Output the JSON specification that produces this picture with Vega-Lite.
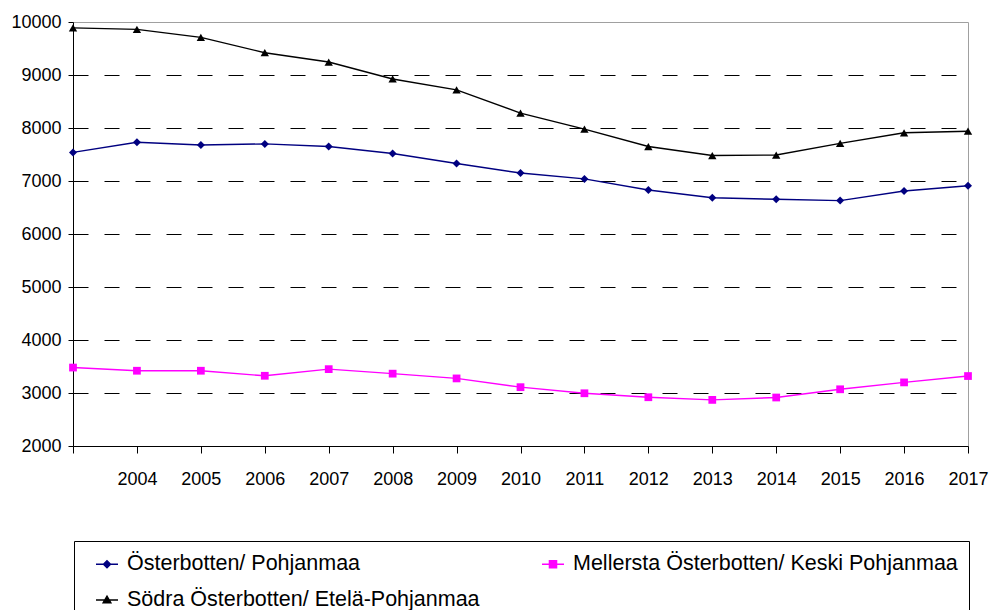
{
  "$schema": "https://vega.github.io/schema/vega-lite/v6.json",
  "width": 895,
  "height": 424,
  "autosize": "none",
  "padding": {"left": 73, "top": 22, "right": 23, "bottom": 164},
  "background": "white",
  "config": {
    "view": {"stroke": "#a0a0a0", "strokeWidth": 1},
    "font": "Liberation Sans"
  },
  "data": {
    "values": [
      {"year": 2003, "series": "Österbotten/ Pohjanmaa", "value": 7540},
      {"year": 2004, "series": "Österbotten/ Pohjanmaa", "value": 7730},
      {"year": 2005, "series": "Österbotten/ Pohjanmaa", "value": 7680},
      {"year": 2006, "series": "Österbotten/ Pohjanmaa", "value": 7700},
      {"year": 2007, "series": "Österbotten/ Pohjanmaa", "value": 7650},
      {"year": 2008, "series": "Österbotten/ Pohjanmaa", "value": 7520},
      {"year": 2009, "series": "Österbotten/ Pohjanmaa", "value": 7330},
      {"year": 2010, "series": "Österbotten/ Pohjanmaa", "value": 7150},
      {"year": 2011, "series": "Österbotten/ Pohjanmaa", "value": 7040},
      {"year": 2012, "series": "Österbotten/ Pohjanmaa", "value": 6830},
      {"year": 2013, "series": "Österbotten/ Pohjanmaa", "value": 6685},
      {"year": 2014, "series": "Österbotten/ Pohjanmaa", "value": 6655},
      {"year": 2015, "series": "Österbotten/ Pohjanmaa", "value": 6630},
      {"year": 2016, "series": "Österbotten/ Pohjanmaa", "value": 6810},
      {"year": 2017, "series": "Österbotten/ Pohjanmaa", "value": 6910},
      {"year": 2003, "series": "Mellersta Österbotten/ Keski Pohjanmaa", "value": 3480},
      {"year": 2004, "series": "Mellersta Österbotten/ Keski Pohjanmaa", "value": 3420},
      {"year": 2005, "series": "Mellersta Österbotten/ Keski Pohjanmaa", "value": 3420},
      {"year": 2006, "series": "Mellersta Österbotten/ Keski Pohjanmaa", "value": 3325},
      {"year": 2007, "series": "Mellersta Österbotten/ Keski Pohjanmaa", "value": 3450},
      {"year": 2008, "series": "Mellersta Österbotten/ Keski Pohjanmaa", "value": 3365},
      {"year": 2009, "series": "Mellersta Österbotten/ Keski Pohjanmaa", "value": 3275},
      {"year": 2010, "series": "Mellersta Österbotten/ Keski Pohjanmaa", "value": 3110},
      {"year": 2011, "series": "Mellersta Österbotten/ Keski Pohjanmaa", "value": 2995},
      {"year": 2012, "series": "Mellersta Österbotten/ Keski Pohjanmaa", "value": 2920},
      {"year": 2013, "series": "Mellersta Österbotten/ Keski Pohjanmaa", "value": 2870},
      {"year": 2014, "series": "Mellersta Österbotten/ Keski Pohjanmaa", "value": 2915},
      {"year": 2015, "series": "Mellersta Österbotten/ Keski Pohjanmaa", "value": 3070},
      {"year": 2016, "series": "Mellersta Österbotten/ Keski Pohjanmaa", "value": 3200},
      {"year": 2017, "series": "Mellersta Österbotten/ Keski Pohjanmaa", "value": 3320},
      {"year": 2003, "series": "Södra Österbotten/ Etelä-Pohjanmaa", "value": 9890},
      {"year": 2004, "series": "Södra Österbotten/ Etelä-Pohjanmaa", "value": 9860},
      {"year": 2005, "series": "Södra Österbotten/ Etelä-Pohjanmaa", "value": 9710},
      {"year": 2006, "series": "Södra Österbotten/ Etelä-Pohjanmaa", "value": 9420},
      {"year": 2007, "series": "Södra Österbotten/ Etelä-Pohjanmaa", "value": 9245},
      {"year": 2008, "series": "Södra Österbotten/ Etelä-Pohjanmaa", "value": 8925},
      {"year": 2009, "series": "Södra Österbotten/ Etelä-Pohjanmaa", "value": 8720},
      {"year": 2010, "series": "Södra Österbotten/ Etelä-Pohjanmaa", "value": 8280},
      {"year": 2011, "series": "Södra Österbotten/ Etelä-Pohjanmaa", "value": 7980},
      {"year": 2012, "series": "Södra Österbotten/ Etelä-Pohjanmaa", "value": 7650},
      {"year": 2013, "series": "Södra Österbotten/ Etelä-Pohjanmaa", "value": 7480},
      {"year": 2014, "series": "Södra Österbotten/ Etelä-Pohjanmaa", "value": 7490},
      {"year": 2015, "series": "Södra Österbotten/ Etelä-Pohjanmaa", "value": 7710},
      {"year": 2016, "series": "Södra Österbotten/ Etelä-Pohjanmaa", "value": 7910},
      {"year": 2017, "series": "Södra Österbotten/ Etelä-Pohjanmaa", "value": 7940}
    ]
  },
  "encoding": {
    "x": {
      "field": "year",
      "type": "quantitative",
      "scale": {"domain": [2003, 2017], "nice": false, "zero": false},
      "axis": {
        "title": null,
        "values": [2003, 2004, 2005, 2006, 2007, 2008, 2009, 2010, 2011, 2012, 2013, 2014, 2015, 2016, 2017],
        "format": "d",
        "labelExpr": "datum.value == 2003 ? '' : datum.label",
        "labelFlush": false,
        "labelOverlap": false,
        "grid": false,
        "domainColor": "black",
        "tickColor": "black",
        "tickSize": 7,
        "labelPadding": 17,
        "labelFontSize": 18,
        "labelColor": "black",
        "labelFont": "Liberation Sans"
      }
    },
    "y": {
      "field": "value",
      "type": "quantitative",
      "scale": {"domain": [2000, 10000], "nice": false, "zero": false},
      "axis": {
        "title": null,
        "values": [2000, 3000, 4000, 5000, 6000, 7000, 8000, 9000, 10000],
        "format": "d",
        "labelFlush": false,
        "labelOverlap": false,
        "grid": true,
        "gridDash": [15, 16],
        "gridColor": {"condition": {"test": "datum.value >= 10000 || datum.value <= 2000", "value": "transparent"}, "value": "black"},
        "gridWidth": 1,
        "domainColor": "black",
        "tickColor": "black",
        "tickSize": 5,
        "labelPadding": 7,
        "labelFontSize": 18,
        "labelColor": "black",
        "labelFont": "Liberation Sans"
      }
    },
    "color": {
      "field": "series",
      "type": "nominal",
      "scale": {
        "domain": ["Österbotten/ Pohjanmaa", "Södra Österbotten/ Etelä-Pohjanmaa", "Mellersta Österbotten/ Keski Pohjanmaa"],
        "range": ["#000080", "#000000", "#ff00ff"]
      }
    }
  },
  "layer": [
    {
      "mark": {"type": "line", "strokeWidth": 1.4},
      "encoding": {
        "color": {
          "field": "series",
          "type": "nominal",
          "legend": {
            "title": null,
            "orient": "none",
            "legendX": 1,
            "legendY": 519,
            "columns": 2,
            "columnPadding": 51,
            "rowPadding": 13,
            "padding": 11,
            "strokeColor": "black",
            "fillColor": "white",
            "symbolSize": 484,
            "symbolOffset": 10,
            "symbolType": "M-1,0H1M0,-0.33L0.33,0L0,0.33L-0.33,0Z",
            "labelFontSize": 21.5,
            "labelFont": "Liberation Sans",
            "labelColor": "black",
            "labelLimit": 600,
            "labelOffset": 8,
            "encode": {
              "symbols": {
                "update": {
                  "shape": {"signal": "datum.index == 0 ? 'M-1,0H1M0,-0.33L0.33,0L0,0.33L-0.33,0Z' : datum.index == 2 ? 'M-1,0H1M-0.33,-0.33H0.33V0.33H-0.33Z' : 'M-1,0H1M0,-0.36L0.36,0.27L-0.36,0.27Z'"},
                  "fill": {"scale": "color", "field": "value"},
                  "stroke": {"scale": "color", "field": "value"},
                  "strokeWidth": {"value": 1.3},
                  "opacity": {"value": 1}
                }
              }
            }
          }
        }
      }
    },
    {
      "transform": [{"filter": "datum.series == 'Österbotten/ Pohjanmaa'"}],
      "mark": {"type": "point", "filled": true, "opacity": 1, "shape": "diamond", "size": 64}
    },
    {
      "transform": [{"filter": "datum.series == 'Mellersta Österbotten/ Keski Pohjanmaa'"}],
      "mark": {"type": "point", "filled": true, "opacity": 1, "shape": "square", "size": 60}
    },
    {
      "transform": [{"filter": "datum.series == 'Södra Österbotten/ Etelä-Pohjanmaa'"}],
      "mark": {"type": "point", "filled": true, "opacity": 1, "shape": "triangle-up", "size": 70}
    }
  ]
}
